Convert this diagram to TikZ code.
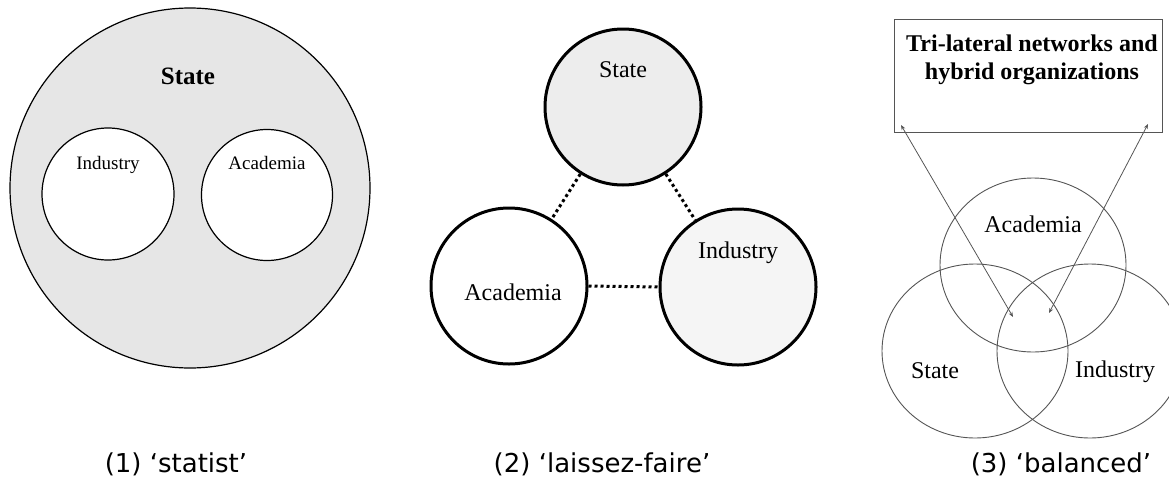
\documentclass[tikz,border=0pt]{standalone}
\usepackage{fontspec}
\setmainfont{Liberation Serif}
\newfontfamily\capfont{DejaVu Sans}
\usetikzlibrary{shapes.geometric,arrows.meta}
\definecolor{statefill}{HTML}{E6E6E6}
\definecolor{lightfill}{HTML}{EDEDED}
\definecolor{paler}{HTML}{F5F5F5}
\definecolor{thinline}{HTML}{555555}
\tikzset{
  ring/.style={circle,draw=black,inner sep=0pt},
  lbl/.style={inner sep=0pt,font=\fontsize{24}{28}\selectfont},
  smalllbl/.style={inner sep=0pt,font=\fontsize{19}{22}\selectfont},
  caption/.style={inner sep=0pt,anchor=base,font=\capfont\fontsize{26}{30}\selectfont},
  linkdot/.style={line width=3pt,dash pattern=on 3pt off 3pt},
  venn/.style={ellipse,draw=thinline,line width=0.9pt,inner sep=0pt,minimum width=186pt,minimum height=174pt},
  ptr/.style={draw=thinline,line width=0.8pt,{Stealth[length=5pt,width=4pt]}-{Stealth[length=5pt,width=4pt]}}
}
\begin{document}
\begin{tikzpicture}[x=1pt,y=-1pt]
\useasboundingbox (0,0) rectangle (1169,477);
% Panel 1: statist
\node[ring,line width=1.2pt,fill=statefill,minimum size=360pt] (bigstate) at (190,188) {};
\node[ring,line width=1.2pt,fill=white,minimum size=132pt] (ind1) at (108,194) {};
\node[ring,line width=1.2pt,fill=white,minimum size=131pt] (aca1) at (267,195) {};
\node[lbl,font=\fontsize{25}{28}\selectfont\bfseries] (st1lbl) at (188,76) {State};
\node[smalllbl] (ind1lbl) at (108,165) {Industry};
\node[smalllbl] (aca1lbl) at (267,163) {Academia};
% Panel 2: laissez-faire
\node[ring,line width=3pt,fill=lightfill,minimum size=156pt] (st2) at (623,107) {};
\node[ring,line width=3pt,fill=white,minimum size=156pt] (aca2) at (509,286) {};
\node[ring,line width=3pt,fill=paler,minimum size=156pt] (ind2) at (738,287) {};
\node[lbl] (st2lbl) at (623,70) {State};
\node[lbl] (aca2lbl) at (513,292) {Academia};
\node[lbl] (ind2lbl) at (738,253) {Industry};
\draw[linkdot] (st2) -- (aca2);
\draw[linkdot] (st2) -- (ind2);
\draw[linkdot] (aca2.east) -- (ind2.west);
% Panel 3: balanced
\node[draw=thinline,line width=0.9pt,minimum width=268pt,minimum height=113pt,inner sep=0pt] (box) at (1028,75.5) {};
\node[inner sep=0pt,align=center,font=\fontsize{24}{28}\selectfont\bfseries] (boxtxt) at (1032,60) {Tri-lateral networks and\\hybrid organizations};
\node[venn] (aca3) at (1033,265) {};
\node[venn] (st3) at (975,351) {};
\node[venn] (ind3) at (1090,351) {};
\node[lbl] (aca3lbl) at (1033,224) {Academia};
\node[lbl] (st3lbl) at (935,371) {State};
\node[lbl] (ind3lbl) at (1115,372) {Industry};
\coordinate (pL) at (1013,317);
\coordinate (pR) at (1049,313);
\coordinate (bL) at (901,125);
\coordinate (bR) at (1148,124);
\draw[ptr] (bL) -- (pL);
\draw[ptr] (bR) -- (pR);
% Captions
\node[caption] (cap1) at (176,472) {(1) ‘statist’};
\node[caption] (cap2) at (602,472) {(2) ‘laissez-faire’};
\node[caption] (cap3) at (1061,472) {(3) ‘balanced’};
\end{tikzpicture}
\end{document}
